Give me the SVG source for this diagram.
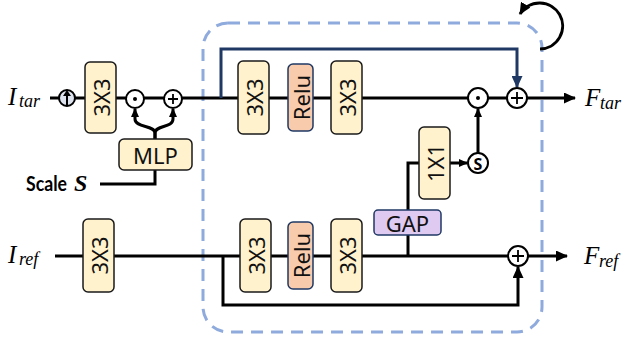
<svg xmlns="http://www.w3.org/2000/svg" width="628" height="339" viewBox="0 0 628 339">
<style>
.box{fill:#fff2cc;stroke:#1a1a1a;stroke-width:1.5}
.relu{fill:#f8cbad;stroke:#1f3864;stroke-width:1.5}
.gap{fill:#dfcaf2;stroke:#1f3864;stroke-width:1.5}
.lbl{font-family:"Noto Sans","Open Sans",sans-serif;font-size:22px;fill:#111}
.ln{fill:none;stroke:#000;stroke-width:3}
.nv{fill:none;stroke:#1f3864;stroke-width:3}
.op{fill:#fff;stroke:#000;stroke-width:2}
.math{font-family:"Liberation Serif",serif;font-style:italic;fill:#000}
</style>
<defs>
<marker id="ah" markerUnits="userSpaceOnUse" markerWidth="13" markerHeight="11" refX="11" refY="5.5" orient="auto"><path d="M0,0 L12,5.5 L0,11 z" fill="#000"/></marker>
<marker id="ahn" markerUnits="userSpaceOnUse" markerWidth="13" markerHeight="11" refX="11" refY="5.5" orient="auto"><path d="M0,0 L12,5.5 L0,11 z" fill="#1f3864"/></marker>
<marker id="ahs" markerUnits="userSpaceOnUse" markerWidth="10" markerHeight="8" refX="8" refY="4" orient="auto"><path d="M0,0 L9,4 L0,8 z" fill="#000"/></marker>
</defs>

<g id="container">
<rect x="203" y="23" width="339" height="309" rx="25" fill="none" stroke="#8faadc" stroke-width="3" stroke-dasharray="12 8"/>
</g>

<g id="connectors">
<path class="ln" d="M50,98 H575" marker-end="url(#ah)"/>
<path class="ln" d="M55,256 H567" marker-end="url(#ah)"/>
<path class="nv" d="M221,98 V49 H517 V87" marker-end="url(#ahn)"/>
<path class="ln" d="M223,256 V305 H518 V267" marker-end="url(#ah)"/>
<path class="ln" d="M155,139 V133 C155,125 135,128 135,119 V109" marker-end="url(#ahs)"/>
<path class="ln" d="M155,139 V133 C155,125 173,128 173,119 V109" marker-end="url(#ahs)"/>
<path class="ln" d="M100,184 H155 V170"/>
<path class="ln" d="M408,256 V235"/>
<path class="ln" d="M408,210 V163 H419"/>
<path class="ln" d="M450,163 H467" marker-end="url(#ahs)"/>
<path class="ln" d="M478,153 V109" marker-end="url(#ahs)"/>
<path class="ln" d="M540,49 A23,23 0 1 0 520,14" marker-end="url(#ah)"/>
</g>

<g id="upsample">
<circle cx="67" cy="98" r="8" fill="#dde3ee" stroke="#000" stroke-width="2"/>
<path d="M67,105 V95" stroke="#000" stroke-width="2" fill="none"/>
<path d="M63,96 L67,90 L71,96 z" fill="#000"/>
</g>

<g id="conv_tar_pre">
<rect class="box" x="85" y="62" width="31" height="71" rx="5"/>
<text class="lbl" transform="translate(100.5,97.5) rotate(-90)" text-anchor="middle" dominant-baseline="central">3X3</text>
</g>

<g id="mul_left">
<circle class="op" cx="135" cy="99" r="9"/>
<circle cx="135" cy="99" r="2" fill="#000"/>
</g>
<g id="add_left">
<circle class="op" cx="173" cy="99" r="9"/>
<path d="M168,99 H178 M173,94 V104" stroke="#000" stroke-width="1.8"/>
</g>

<g id="mlp">
<rect class="box" x="119" y="139" width="73" height="31" rx="5"/>
<text class="lbl" font-size="20" x="155.5" y="155" text-anchor="middle" dominant-baseline="central">MLP</text>
</g>

<g id="scale">
<text x="26" y="191" font-family="Lato,'Noto Sans',sans-serif" font-weight="bold" font-size="20" fill="#000" textLength="41" lengthAdjust="spacingAndGlyphs">Scale</text>
<text x="74" y="191" font-family="'Liberation Serif',serif" font-style="italic" font-weight="bold" font-size="24" fill="#000">S</text>
</g>

<g id="itar">
<text class="math" x="8" y="105" font-size="25">I</text>
<text class="math" x="19" y="107" font-size="18">tar</text>
</g>
<g id="iref">
<text class="math" x="8" y="263" font-size="25">I</text>
<text class="math" x="19" y="265" font-size="18">ref</text>
</g>
<g id="ftar">
<text class="math" x="585" y="106" font-size="25">F</text>
<text class="math" x="600" y="109" font-size="18">tar</text>
</g>
<g id="fref">
<text class="math" x="584" y="264" font-size="25">F</text>
<text class="math" x="599" y="267" font-size="18">ref</text>
</g>

<g id="conv_t1">
<rect class="box" x="238" y="61" width="31" height="73" rx="5"/>
<text class="lbl" transform="translate(253.5,97.5) rotate(-90)" text-anchor="middle" dominant-baseline="central">3X3</text>
</g>
<g id="relu_t">
<rect class="relu" x="288" y="64" width="25" height="67" rx="5"/>
<text class="lbl" font-size="19" transform="translate(300.5,97.5) rotate(-90)" text-anchor="middle" dominant-baseline="central">Relu</text>
</g>
<g id="conv_t2">
<rect class="box" x="331" y="61" width="31" height="73" rx="5"/>
<text class="lbl" transform="translate(346.5,97.5) rotate(-90)" text-anchor="middle" dominant-baseline="central">3X3</text>
</g>

<g id="mul_right">
<circle class="op" cx="478" cy="98" r="10"/>
<circle cx="478" cy="98" r="2" fill="#000"/>
</g>
<g id="add_top">
<circle class="op" cx="517" cy="98" r="10"/>
<path d="M511,98 H523 M517,92 V104" stroke="#000" stroke-width="1.8"/>
</g>

<g id="conv_r_pre">
<rect class="box" x="83" y="219" width="31" height="73" rx="5"/>
<text class="lbl" transform="translate(98.5,255.5) rotate(-90)" text-anchor="middle" dominant-baseline="central">3X3</text>
</g>
<g id="conv_b1">
<rect class="box" x="240" y="219" width="31" height="73" rx="5"/>
<text class="lbl" transform="translate(255.5,255.5) rotate(-90)" text-anchor="middle" dominant-baseline="central">3X3</text>
</g>
<g id="relu_b">
<rect class="relu" x="288" y="222" width="25" height="67" rx="5"/>
<text class="lbl" font-size="19" transform="translate(300.5,255.5) rotate(-90)" text-anchor="middle" dominant-baseline="central">Relu</text>
</g>
<g id="conv_b2">
<rect class="box" x="331" y="219" width="31" height="73" rx="5"/>
<text class="lbl" transform="translate(346.5,255.5) rotate(-90)" text-anchor="middle" dominant-baseline="central">3X3</text>
</g>

<g id="gap">
<rect class="gap" x="374" y="210" width="67" height="25" rx="4"/>
<text class="lbl" font-size="20" x="407.5" y="222.5" text-anchor="middle" dominant-baseline="central">GAP</text>
</g>
<g id="conv1x1">
<rect class="box" x="419" y="127" width="31" height="72" rx="5"/>
<text class="lbl" transform="translate(434.5,163) rotate(-90)" text-anchor="middle" dominant-baseline="central">1X1</text>
</g>
<g id="sigmoid">
<circle class="op" cx="478" cy="163" r="10"/>
<text x="478" y="163.5" font-family="'Noto Sans',sans-serif" font-weight="bold" font-size="16" text-anchor="middle" dominant-baseline="central">S</text>
</g>
<g id="add_bottom">
<circle class="op" cx="518" cy="256" r="10"/>
<path d="M512,256 H524 M518,250 V262" stroke="#000" stroke-width="1.8"/>
</g>
</svg>
